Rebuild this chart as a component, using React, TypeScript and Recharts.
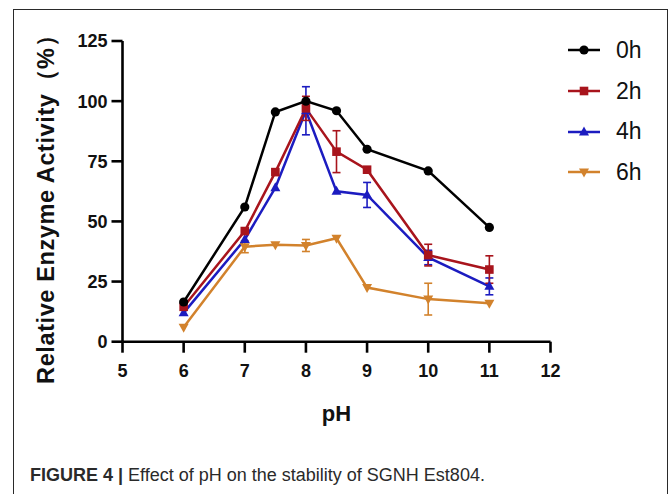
import React from 'react';
import { LineChart, Line, XAxis, YAxis, ErrorBar, Label } from 'recharts';

// ---- data ----
const phValues = [6, 7, 7.5, 8, 8.5, 9, 10, 11];
const act0h = [16.5, 56, 95.5, 100, 96, 80, 71, 47.5];
const act2h = [14.5, 46, 70.5, 97, 79, 71.5, 36, 30];
const err2h = [null, null, null, 5, 8.7, null, 4.5, 5.7];
const act4h = [12, 42.5, 64, 96, 62.5, 61, 35, 23];
const err4h = [null, null, null, 10, null, 5.2, 3, 3.5];
const act6h = [6, 39.5, 40.3, 40, 43, 22.5, 17.7, 16];
const err6h = [null, 2.5, null, 2.5, null, null, 6.6, null];
const xTicks = [5, 6, 7, 8, 9, 10, 11, 12];
const yTicks = [0, 25, 50, 75, 100, 125];
const seriesNames = ['0h', '2h', '4h', '6h'];

const data = phValues.map((ph, i) => ({
  ph,
  h0: act0h[i],
  h2: act2h[i],
  e2: err2h[i] ?? undefined,
  h4: act4h[i],
  e4: err4h[i] ?? undefined,
  h6: act6h[i],
  e6: err6h[i] ?? undefined,
}));

const COLORS = { h0: '#000000', h2: '#a8141c', h4: '#1c1cc0', h6: '#d2822c' };
const SHAPES = { h0: 'circle', h2: 'square', h4: 'up', h6: 'down' };

function Marker({ cx, cy, shape, color }: any) {
  if (cx == null || cy == null || isNaN(cx) || isNaN(cy)) return null;
  if (shape === 'circle') return <circle cx={cx} cy={cy} r={4.6} fill={color} />;
  if (shape === 'square') return <rect x={cx - 4.3} y={cy - 4.3} width={8.6} height={8.6} fill={color} />;
  if (shape === 'up')
    return <polygon points={`${cx},${cy - 5.5} ${cx + 5},${cy + 3.5} ${cx - 5},${cy + 3.5}`} fill={color} />;
  return <polygon points={`${cx},${cy + 5.5} ${cx + 5},${cy - 3.5} ${cx - 5},${cy - 3.5}`} fill={color} />;
}

const makeDot = (key: string) => (props: any) => (
  <g key={`${key}-${props.index}`}>
    <Marker cx={props.cx} cy={props.cy} shape={(SHAPES as any)[key]} color={(COLORS as any)[key]} />
  </g>
);

const FONT = '"Liberation Sans", Arial, Helvetica, sans-serif';

function LegendBox() {
  const keys = ['h0', 'h2', 'h4', 'h6'];
  return (
    <div style={{ position: 'absolute', left: 566, top: 30, width: 100, fontFamily: FONT }}>
      {keys.map((k, i) => (
        <div key={k} style={{ display: 'flex', alignItems: 'center', height: 40.7 }}>
          <svg width={36} height={20} style={{ display: 'block' }}>
            <line x1={2} y1={10} x2={34} y2={10} stroke={(COLORS as any)[k]} strokeWidth={2.5} />
            <Marker cx={18} cy={10} shape={(SHAPES as any)[k]} color={(COLORS as any)[k]} />
          </svg>
          <span style={{ marginLeft: 14, fontSize: 23, color: '#111', lineHeight: '23px' }}>{seriesNames[i]}</span>
        </div>
      ))}
    </div>
  );
}

const tickStyle = { fontFamily: FONT, fontWeight: 700, fontSize: 18, fill: '#111' };

export default function App() {
  return (
    <div style={{ position: 'absolute', left: 0, top: 0, width: 672, height: 494, background: '#fff', overflow: 'hidden' }}>
      <div
        style={{
          position: 'absolute',
          left: 12.5,
          top: 8.5,
          width: 655,
          height: 520,
          border: '1.5px solid #2a2a2a',
          boxSizing: 'border-box',
        }}
      />
      <div style={{ position: 'absolute', left: 0, top: 0 }}>
        <LineChart width={672} height={494} data={data} margin={{ top: 41, right: 121.5, bottom: 122.3, left: 62.5 }}>
          <XAxis
            dataKey="ph"
            type="number"
            domain={[5, 12]}
            ticks={xTicks}
            height={30}
            axisLine={{ stroke: '#000', strokeWidth: 2.6 }}
            tickLine={{ stroke: '#000', strokeWidth: 2.6 }}
            tickSize={11}
            tickMargin={11.5}
            tick={tickStyle}
            interval={0}
          >
            <Label
              content={(p: any) => {
                const vb = p.viewBox || {};
                return (
                  <text
                    x={vb.x + vb.width / 2}
                    y={420.7}
                    textAnchor="middle"
                    style={{ fontFamily: FONT, fontWeight: 700, fontSize: 22, fill: '#111' }}
                  >
                    pH
                  </text>
                );
              }}
            />
          </XAxis>
          <YAxis
            type="number"
            domain={[0, 125]}
            ticks={yTicks}
            width={60}
            axisLine={{ stroke: '#000', strokeWidth: 2.6 }}
            tickLine={{ stroke: '#000', strokeWidth: 2.6 }}
            tickSize={11}
            tickMargin={4}
            tick={tickStyle}
            interval={0}
          >
            <Label
              content={(p: any) => {
                const vb = p.viewBox || {};
                const cy = vb.y + vb.height / 2 + 12;
                return (
                  <text
                    x={54}
                    y={cy}
                    transform={`rotate(-90, 54, ${cy})`}
                    textAnchor="middle"
                    style={{ fontFamily: FONT, fontWeight: 700, fontSize: 23.5, letterSpacing: 0.6, fill: '#111' }}
                  >
                    Relative Enzyme Activity（%）
                  </text>
                );
              }}
            />
          </YAxis>
          <Line dataKey="h6" stroke={COLORS.h6} strokeWidth={2.5} dot={makeDot('h6')} isAnimationActive={false}>
            <ErrorBar dataKey="e6" width={4} stroke={COLORS.h6} strokeWidth={1.6} direction="y" />
          </Line>
          <Line dataKey="h4" stroke={COLORS.h4} strokeWidth={2.5} dot={makeDot('h4')} isAnimationActive={false}>
            <ErrorBar dataKey="e4" width={4} stroke={COLORS.h4} strokeWidth={1.6} direction="y" />
          </Line>
          <Line dataKey="h2" stroke={COLORS.h2} strokeWidth={2.5} dot={makeDot('h2')} isAnimationActive={false}>
            <ErrorBar dataKey="e2" width={4} stroke={COLORS.h2} strokeWidth={1.6} direction="y" />
          </Line>
          <Line dataKey="h0" stroke={COLORS.h0} strokeWidth={2.5} dot={makeDot('h0')} isAnimationActive={false} />
        </LineChart>
      </div>
      <LegendBox />
      <div
        style={{
          position: 'absolute',
          left: 30,
          top: 465.7,
          fontFamily: '"Liberation Sans Narrow", "Liberation Sans", Arial, sans-serif',
          fontSize: 18,
          lineHeight: '18px',
          color: '#2a2a2a',
          whiteSpace: 'nowrap',
        }}
      >
        <span style={{ fontWeight: 700 }}>FIGURE 4 | </span>
        <span>Effect of pH on the stability of SGNH Est804.</span>
      </div>
    </div>
  );
}
